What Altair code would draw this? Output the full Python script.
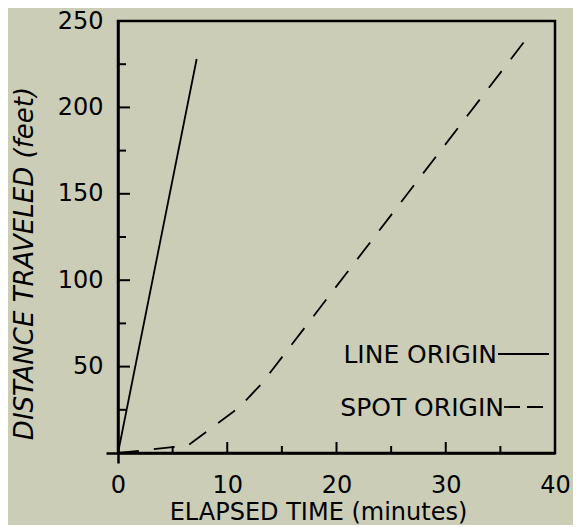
import altair as alt
import pandas as pd

# ---- data ----
line_t = [0, 7.2]
line_d = [0, 228]
spot_t = [0, 6.4, 11.1, 13.2, 37.3]
spot_d = [0, 4.3, 26.4, 40.5, 239]

x_labels = [0, 10, 20, 30, 40]
y_labels = [0, 50, 100, 150, 200, 250]
x_ticks_major = [10, 20, 30]
x_ticks_minor = [5, 15, 25, 35]
y_ticks_major = [50, 100, 150, 200]
y_ticks_minor = [25, 75, 125, 175, 225]
legend_labels = ["LINE ORIGIN", "SPOT ORIGIN"]

# ---- styling ----
W, H = 437, 432
FONT = "DejaVu Sans"
BG = "#cccdb7"
INK = "black"

xs = alt.Scale(domain=[0, 40], nice=False, zero=False)
ys = alt.Scale(domain=[0, 250], nice=False, zero=False)

only_zero = {"condition": {"test": "datum.value == 0", "value": 1}, "value": 0}

x_axis = alt.Axis(
    values=x_labels, grid=False, labelFlush=False, labelOverlap=False,
    labelFont=FONT, labelFontSize=24, labelColor=INK, labelPadding=10,
    tickSize=10, tickWidth=2.5, tickColor=INK, tickOpacity=only_zero,
    domainColor=INK, domainWidth=2.5,
    title="ELAPSED TIME (minutes)", titleFont=FONT, titleFontSize=24,
    titleFontWeight="normal", titleColor=INK,
    titleX=200, titleY=66, titleAlign="center", titleBaseline="alphabetic",
)
y_axis = alt.Axis(
    values=y_labels, grid=False, labelOverlap=False, labelFlush=False,
    labelExpr="datum.value == 0 ? '' : datum.label",
    labelFont=FONT, labelFontSize=24, labelColor=INK, labelPadding=3,
    tickSize=12, tickWidth=2.5, tickColor=INK, tickOpacity=only_zero,
    domainColor=INK, domainWidth=2.5,
    title="DISTANCE TRAVELED (feet)", titleFont=FONT, titleFontSize=26,
    titleFontWeight="normal", titleFontStyle="italic", titleColor=INK,
    titleAngle=270, titleX=-86, titleY=242, titleAlign="center",
    titleBaseline="alphabetic",
)

df_line = pd.DataFrame({"t": line_t, "d": line_d})
df_spot = pd.DataFrame({"t": spot_t, "d": spot_d})

solid = alt.Chart(df_line).mark_line(color=INK, strokeWidth=1.8).encode(
    x=alt.X("t:Q", scale=xs, axis=x_axis),
    y=alt.Y("d:Q", scale=ys, axis=y_axis),
)
dashed = alt.Chart(df_spot).mark_line(color=INK, strokeWidth=1.8, strokeDash=[21, 15]).encode(
    x=alt.X("t:Q", scale=xs), y=alt.Y("d:Q", scale=ys),
)

def xticks(vals, length):
    return alt.Chart(pd.DataFrame({"t": vals})).mark_rule(color=INK, strokeWidth=2).encode(
        x=alt.X("t:Q", scale=xs), y=alt.value(H), y2=alt.value(H - length))

def yticks(vals, length):
    return alt.Chart(pd.DataFrame({"d": vals})).mark_rule(color=INK, strokeWidth=2).encode(
        y=alt.Y("d:Q", scale=ys), x=alt.value(0), x2=alt.value(length))

leg_line_txt = alt.Chart(pd.DataFrame({"s": [legend_labels[0]]})).mark_text(
    align="right", baseline="middle", font=FONT, fontSize=25, color=INK
).encode(text="s:N", x=alt.value(379), y=alt.value(334))
leg_spot_txt = alt.Chart(pd.DataFrame({"s": [legend_labels[1]]})).mark_text(
    align="right", baseline="middle", font=FONT, fontSize=25, color=INK
).encode(text="s:N", x=alt.value(386), y=alt.value(387))
leg_line_sym = alt.Chart(pd.DataFrame({"s": [legend_labels[0]]})).mark_rule(
    color=INK, strokeWidth=1.8
).encode(x=alt.value(380), x2=alt.value(431), y=alt.value(333))
leg_spot_sym = alt.Chart(pd.DataFrame({"s": [legend_labels[1]]})).mark_rule(
    color=INK, strokeWidth=1.8, strokeDash=[16, 7]
).encode(x=alt.value(386), x2=alt.value(429), y=alt.value(386))

chart = alt.layer(
    solid, dashed,
    xticks(x_ticks_major, 11), xticks(x_ticks_minor, 7),
    yticks(y_ticks_major, 12), yticks(y_ticks_minor, 8),
    leg_line_txt, leg_spot_txt, leg_line_sym, leg_spot_sym,
).properties(
    width=W, height=H,
    autosize=alt.AutoSizeParams(type="none"),
    padding={"left": 110, "top": 13, "right": 18, "bottom": 72},
    background=BG,
).configure_view(stroke=INK, strokeWidth=2.5)

chart.save("out.html", embed_options={"renderer": "svg", "actions": False})
